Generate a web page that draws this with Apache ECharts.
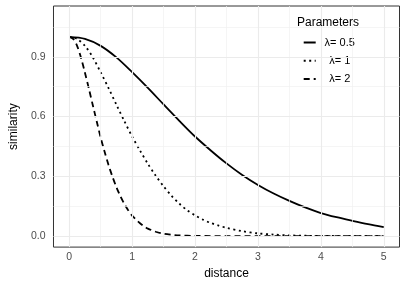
<!DOCTYPE html>
<html>
<head>
<meta charset="utf-8">
<script src="https://cdn.jsdelivr.net/npm/echarts@6/dist/echarts.min.js"></script>
<style>
html,body{margin:0;padding:0;background:#fff;}
#chart{width:407px;height:285px;}
</style>
</head>
<body>
<div id="chart"></div>
<script>
// ---- data ----
const seriesNames = ['λ= 0.5', 'λ= 1', 'λ= 2'];

const distance05 = [0, 0.25, 0.5, 0.75, 1, 1.25, 1.5, 1.75, 2, 2.25, 2.5, 2.75, 3, 3.25, 3.5, 3.75, 4, 4.25, 4.5, 4.75, 5];
const similarity05 = [1.000, 0.990, 0.955, 0.897, 0.823, 0.744, 0.661, 0.579, 0.500, 0.430, 0.365, 0.307, 0.257, 0.214, 0.177, 0.144, 0.116, 0.095, 0.077, 0.060, 0.045];

const distance1 = [0, 0.125, 0.25, 0.375, 0.5, 0.625, 0.75, 0.875, 1, 1.125, 1.25, 1.375, 1.5, 1.625, 1.75, 1.875, 2, 2.125, 2.25, 2.375, 2.5, 2.75, 3, 3.25, 3.5, 3.75, 4, 4.5, 5];
const similarity1 = [1.000, 0.990, 0.955, 0.897, 0.822, 0.743, 0.660, 0.578, 0.500, 0.430, 0.363, 0.303, 0.250, 0.203, 0.163, 0.130, 0.104, 0.083, 0.066, 0.053, 0.042, 0.025, 0.014, 0.008, 0.004, 0.002, 0.001, 0.0003, 0.0001];

const distance2 = [0, 0.0625, 0.125, 0.1875, 0.25, 0.3125, 0.375, 0.4375, 0.5, 0.5625, 0.625, 0.6875, 0.75, 0.8125, 0.875, 0.9375, 1, 1.0625, 1.125, 1.1875, 1.25, 1.375, 1.5, 1.625, 1.75, 2, 2.5, 3, 3.5, 4, 4.5, 5];
const similarity2 = [1.000, 0.990, 0.955, 0.895, 0.820, 0.740, 0.657, 0.575, 0.495, 0.423, 0.357, 0.298, 0.246, 0.201, 0.162, 0.130, 0.103, 0.083, 0.065, 0.050, 0.038, 0.022, 0.012, 0.007, 0.004, 0.0012, 0.0002, 0, 0, 0, 0, 0];

const xTicks = [0, 1, 2, 3, 4, 5];
const xMinorGrid = [0.5, 1.5, 2.5, 3.5, 4.5];
const yTicks = [0, 0.3, 0.6, 0.9];
const yMinorGrid = [0.15, 0.45, 0.75, 1.05];
const legendTitle = 'Parameters';
const xTitle = 'distance';
const yTitle = 'similarity';

// ---- chart ----
const zip = (xs, ys) => xs.map((x, i) => [x, ys[i]]);
const FONT = '"Liberation Sans", Arial, Helvetica, sans-serif';

const gridMajor = [].concat(
  xTicks.map(v => ({ xAxis: v })),
  yTicks.map(v => ({ yAxis: v }))
);
const gridMinor = [].concat(
  xMinorGrid.map(v => ({ xAxis: v })),
  yMinorGrid.map(v => ({ yAxis: v }))
);

const chart = echarts.init(document.getElementById('chart'), null, { renderer: 'canvas' });

const lineBase = {
  type: 'line',
  showSymbol: false,
  symbol: 'none',
  smooth: 0.3,
  z: 3,
  silent: true
};

chart.setOption({
  animation: false,
  backgroundColor: '#ffffff',
  textStyle: { fontFamily: FONT },
  title: {
    text: legendTitle,
    left: 297,
    top: 16,
    padding: 0,
    textStyle: { fontFamily: FONT, fontSize: 12, fontWeight: 'normal', color: '#000', lineHeight: 14 }
  },
  grid: {
    left: 41, right: 7.5, top: 6, bottom: 37,
    show: true, borderColor: '#333333', borderWidth: 1, backgroundColor: 'transparent'
  },
  legend: {
    data: seriesNames,
    orient: 'vertical',
    left: 290,
    top: 8,
    padding: [29, 8, 7, 12.7],
    itemGap: 7.2,
    itemWidth: 12,
    itemHeight: 10,
    backgroundColor: '#ffffff',
    selectedMode: false,
    itemStyle: { opacity: 0 },
    lineStyle: { inherit: true },
    formatter: n => '{a|' + n + '}',
    textStyle: {
      fontFamily: FONT,
      rich: { a: { width: 38, align: 'center', fontSize: 11, lineHeight: 12, color: '#000', fontFamily: FONT } }
    }
  },
  xAxis: {
    type: 'value',
    min: -0.25,
    max: 5.25,
    axisLine: { show: false },
    axisTick: { show: true, customValues: xTicks, length: 3, lineStyle: { color: '#333333', width: 1 } },
    axisLabel: { customValues: xTicks, margin: 5, color: '#4D4D4D', fontSize: 10.5, fontFamily: FONT, formatter: v => String(v) },
    splitLine: { show: false },
    name: xTitle,
    nameLocation: 'middle',
    nameGap: 16,
    nameTextStyle: { fontSize: 12, color: '#000', fontFamily: FONT }
  },
  yAxis: {
    type: 'value',
    min: -0.055,
    max: 1.155,
    axisLine: { show: false },
    axisTick: { show: true, customValues: yTicks, length: 3.5, lineStyle: { color: '#333333', width: 1 } },
    axisLabel: { customValues: yTicks, margin: 8, color: '#4D4D4D', fontSize: 10.5, fontFamily: FONT, formatter: v => v.toFixed(1) },
    splitLine: { show: false },
    name: yTitle,
    nameLocation: 'middle',
    nameGap: 21,
    nameTextStyle: { fontSize: 12, color: '#000', fontFamily: FONT }
  },
  series: [
    {
      name: 'gridMinor', type: 'line', data: [], z: 1, silent: true,
      markLine: {
        silent: true, symbol: ['none', 'none'], label: { show: false }, animation: false,
        lineStyle: { color: '#F0F0F0', width: 0.7, type: 'solid' },
        emphasis: { disabled: true },
        data: gridMinor
      }
    },
    {
      name: 'gridMajor', type: 'line', data: [], z: 1, silent: true,
      markLine: {
        silent: true, symbol: ['none', 'none'], label: { show: false }, animation: false,
        lineStyle: { color: '#EBEBEB', width: 1.1, type: 'solid' },
        emphasis: { disabled: true },
        data: gridMajor
      }
    },
    Object.assign({}, lineBase, {
      name: seriesNames[0],
      data: zip(distance05, similarity05),
      lineStyle: { color: '#000', width: 1.8, type: 'solid' },
      itemStyle: { color: '#000' }
    }),
    Object.assign({}, lineBase, {
      name: seriesNames[1],
      data: zip(distance1, similarity1),
      lineStyle: { color: '#000', width: 1.8, type: [2, 3.5] },
      itemStyle: { color: '#000' }
    }),
    Object.assign({}, lineBase, {
      name: seriesNames[2],
      data: zip(distance2, similarity2),
      lineStyle: { color: '#000', width: 1.8, type: [6, 4] },
      itemStyle: { color: '#000' }
    })
  ]
});
</script>
</body>
</html>
